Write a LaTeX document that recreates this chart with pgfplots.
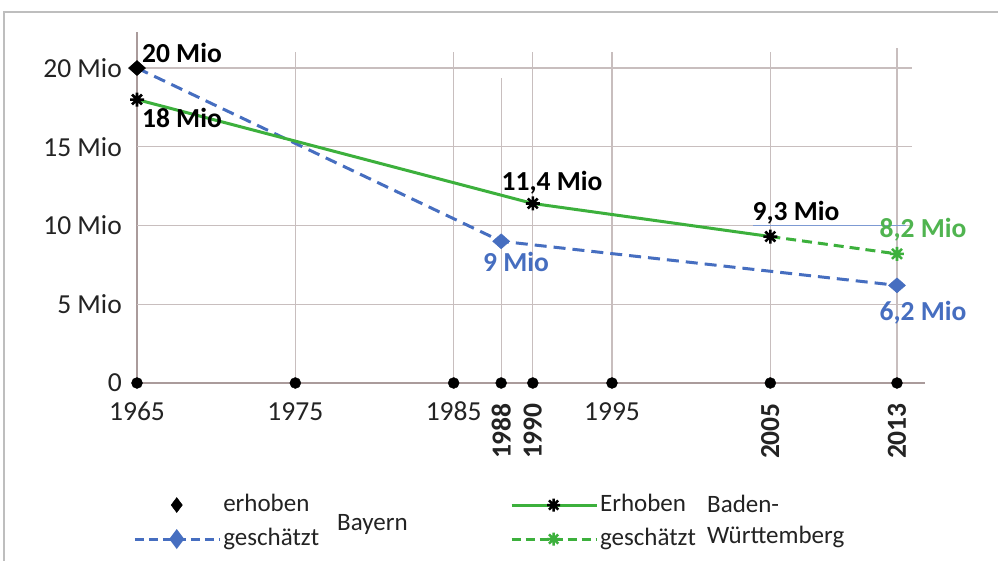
\documentclass[border=0pt]{standalone}
\usepackage{fontspec}
\setmainfont{Carlito}
\usepackage{pgfplots}
\pgfplotsset{compat=1.18}

\definecolor{bayblue}{RGB}{70,110,192}
\definecolor{bwgreen}{RGB}{60,176,60}
\definecolor{labgreen}{RGB}{80,180,80}
\definecolor{gridc}{RGB}{200,190,190}
\definecolor{axisc}{RGB}{170,155,155}
\definecolor{framec}{RGB}{190,190,190}
\definecolor{textc}{RGB}{35,35,35}

% asterisk with 8 arms
\pgfdeclareplotmark{star8}{%
  \pgfpathmoveto{\pgfpoint{0pt}{\pgfplotmarksize}}%
  \pgfpathlineto{\pgfpoint{0pt}{-\pgfplotmarksize}}%
  \pgfpathmoveto{\pgfpoint{\pgfplotmarksize}{0pt}}%
  \pgfpathlineto{\pgfpoint{-\pgfplotmarksize}{0pt}}%
  \pgfpathmoveto{\pgfpoint{.707\pgfplotmarksize}{.707\pgfplotmarksize}}%
  \pgfpathlineto{\pgfpoint{-.707\pgfplotmarksize}{-.707\pgfplotmarksize}}%
  \pgfpathmoveto{\pgfpoint{-.707\pgfplotmarksize}{.707\pgfplotmarksize}}%
  \pgfpathlineto{\pgfpoint{.707\pgfplotmarksize}{-.707\pgfplotmarksize}}%
  \pgfusepathqstroke}
% wide diamond
\pgfdeclareplotmark{rhomb}{%
  \pgfpathmoveto{\pgfpoint{0pt}{.88\pgfplotmarksize}}%
  \pgfpathlineto{\pgfpoint{\pgfplotmarksize}{0pt}}%
  \pgfpathlineto{\pgfpoint{0pt}{-.88\pgfplotmarksize}}%
  \pgfpathlineto{\pgfpoint{-\pgfplotmarksize}{0pt}}%
  \pgfpathclose
  \pgfusepathqfillstroke}

\newcommand{\tickfont}{\fontsize{27.5}{30}\selectfont}
\newcommand{\legfont}{\fontsize{25}{30}\selectfont}

\begin{document}
\begin{tikzpicture}
\useasboundingbox (0,0) rectangle (998pt,560pt);
\fill[white] (0,0) rectangle (998pt,560pt);
\draw[framec, line width=2pt] (4pt,-5pt) -- (4pt,548pt) -- (1010pt,548pt);

\begin{axis}[
  at={(137pt,177pt)}, anchor=south west,
  scale only axis, width=788pt, height=351pt,
  xmin=1965, xmax=2014.77, ymin=0, ymax=22.29,
  axis lines=left, axis line style={-, axisc, line width=1.5pt},
  clip=false,
  major tick length=0pt,
  xtick={1965,1975,1985,1995}, xticklabels={1965,1975,1985,1995},
  extra x ticks={1988,1990,2005,2013},
  extra x tick labels={1988,1990,2005,2013},
  extra x tick style={xticklabel style={yshift=-1pt, rotate=90, anchor=east, font=\tickfont\bfseries}},
  ytick={0,5,10,15,20}, yticklabels={0,5 Mio,10 Mio,15 Mio,20 Mio},
  xticklabel style={anchor=north, inner sep=0pt, yshift=-19pt},
  yticklabel style={anchor=east, inner sep=0pt, xshift=-15pt},
  tick label style={font=\tickfont, text=textc},
  /pgf/number format/assume math mode=true,
  legend columns=2,
  legend cell align=left,
  legend style={draw=none, fill=none, inner sep=0pt,
    at={(-0.005,-0.303)}, anchor=north west,
    font=\legfont, text=textc,
    nodes={inner sep=2pt, text height=20pt, text depth=7pt},
    /tikz/every even column/.append style={column sep=189pt},
    row sep=3pt},
  legend image code/.code={%
    \draw[mark repeat=2, mark phase=2, #1] plot coordinates {(0pt,0pt)(42pt,0pt)(85pt,0pt)};},
]

% grid
\pgfplotsinvokeforeach{5,10,15,20}{
  \draw[gridc, line width=1.3pt] (axis cs:1965,#1) -- (axis cs:2013.95,#1);
}
\pgfplotsinvokeforeach{1975,1985,1990,1995,2005}{
  \draw[gridc, line width=1.3pt] (axis cs:#1,0) -- (axis cs:#1,21.0);
}
\draw[gridc, line width=1.3pt] (axis cs:1988,0) -- (axis cs:1988,19.37);
\draw[gridc, line width=1.3pt] (axis cs:2013,0) -- (axis cs:2013,21.27);
\draw[bayblue!70, line width=1pt] (axis cs:2003.9,10) -- (axis cs:2013.6,10);

% tick dots on the x axis
\addplot[only marks, mark=*, mark size=5.5pt, black, forget plot]
  coordinates {(1965,0)(1975,0)(1985,0)(1988,0)(1990,0)(1995,0)(2005,0)(2013,0)};

% Bayern, geschaetzt
\addplot[bayblue, line width=3pt, dash pattern=on 12pt off 7pt,
  mark=rhomb, mark size=8.5pt, mark options={solid, fill=bayblue, line width=0.5pt},
  mark indices={2,3}, forget plot]
  coordinates {(1965,20)(1988,9)(2013,6.2)};

% Baden-Wuerttemberg, geschaetzt
\addplot[bwgreen, line width=3pt, dash pattern=on 10pt off 6pt,
  mark=star8, mark size=7pt, mark options={solid, bwgreen, line width=2.6pt},
  mark indices={2}, forget plot]
  coordinates {(2005,9.3)(2013,8.2)};

% Baden-Wuerttemberg, erhoben
\addplot[bwgreen, line width=3pt,
  mark=star8, mark size=7pt, mark options={black, line width=2.6pt}, forget plot]
  coordinates {(1965,18)(1990,11.4)(2005,9.3)};

% Bayern, erhoben
\addplot[only marks, mark=rhomb, mark size=8.5pt, black, mark options={fill=black, line width=0.5pt}, forget plot]
  coordinates {(1965,20)};

% data labels
\begin{scope}[every node/.style={anchor=base, inner sep=0pt, font=\tickfont\bfseries}]
\node[text=black] at (axis cs:1967.84,20.38) {20 Mio};
\node[text=black] at (axis cs:1967.84,16.25) {18 Mio};
\node[text=black] at (axis cs:1991.21,12.25) {11,4 Mio};
\node[text=bayblue] at (axis cs:1988.94,7.05) {9 Mio};
\node[text=black] at (axis cs:2006.62,10.35) {9,3 Mio};
\node[text=labgreen] at (axis cs:2014.64,9.27) {8,2 Mio};
\node[text=bayblue] at (axis cs:2014.64,4.0) {6,2 Mio};
\end{scope}

% legend
\addlegendimage{only marks, mark=diamond*, mark size=7.5pt, black}
\addlegendentry{erhoben}
\addlegendimage{bwgreen, line width=3pt, mark=star8, mark size=6.5pt, mark options={black, line width=2.5pt}}
\addlegendentry{Erhoben}
\addlegendimage{bayblue, line width=3pt, dash pattern=on 9pt off 5pt, mark=diamond*, mark size=7.5pt, mark options={solid, fill=bayblue}}
\addlegendentry{geschätzt}
\addlegendimage{bwgreen, line width=3pt, dash pattern=on 9pt off 5pt, mark=star8, mark size=6.5pt, mark options={solid, bwgreen, line width=2.5pt}}
\addlegendentry{geschätzt}
\end{axis}

\node[anchor=base west, inner sep=0pt, font=\legfont, text=textc] at (337pt,30pt) {Bayern};
\node[anchor=base west, inner sep=0pt, font=\legfont, text=textc] at (707pt,48pt) {Baden-};
\node[anchor=base west, inner sep=0pt, font=\legfont, text=textc] at (707pt,17pt) {Württemberg};
\end{tikzpicture}
\end{document}
